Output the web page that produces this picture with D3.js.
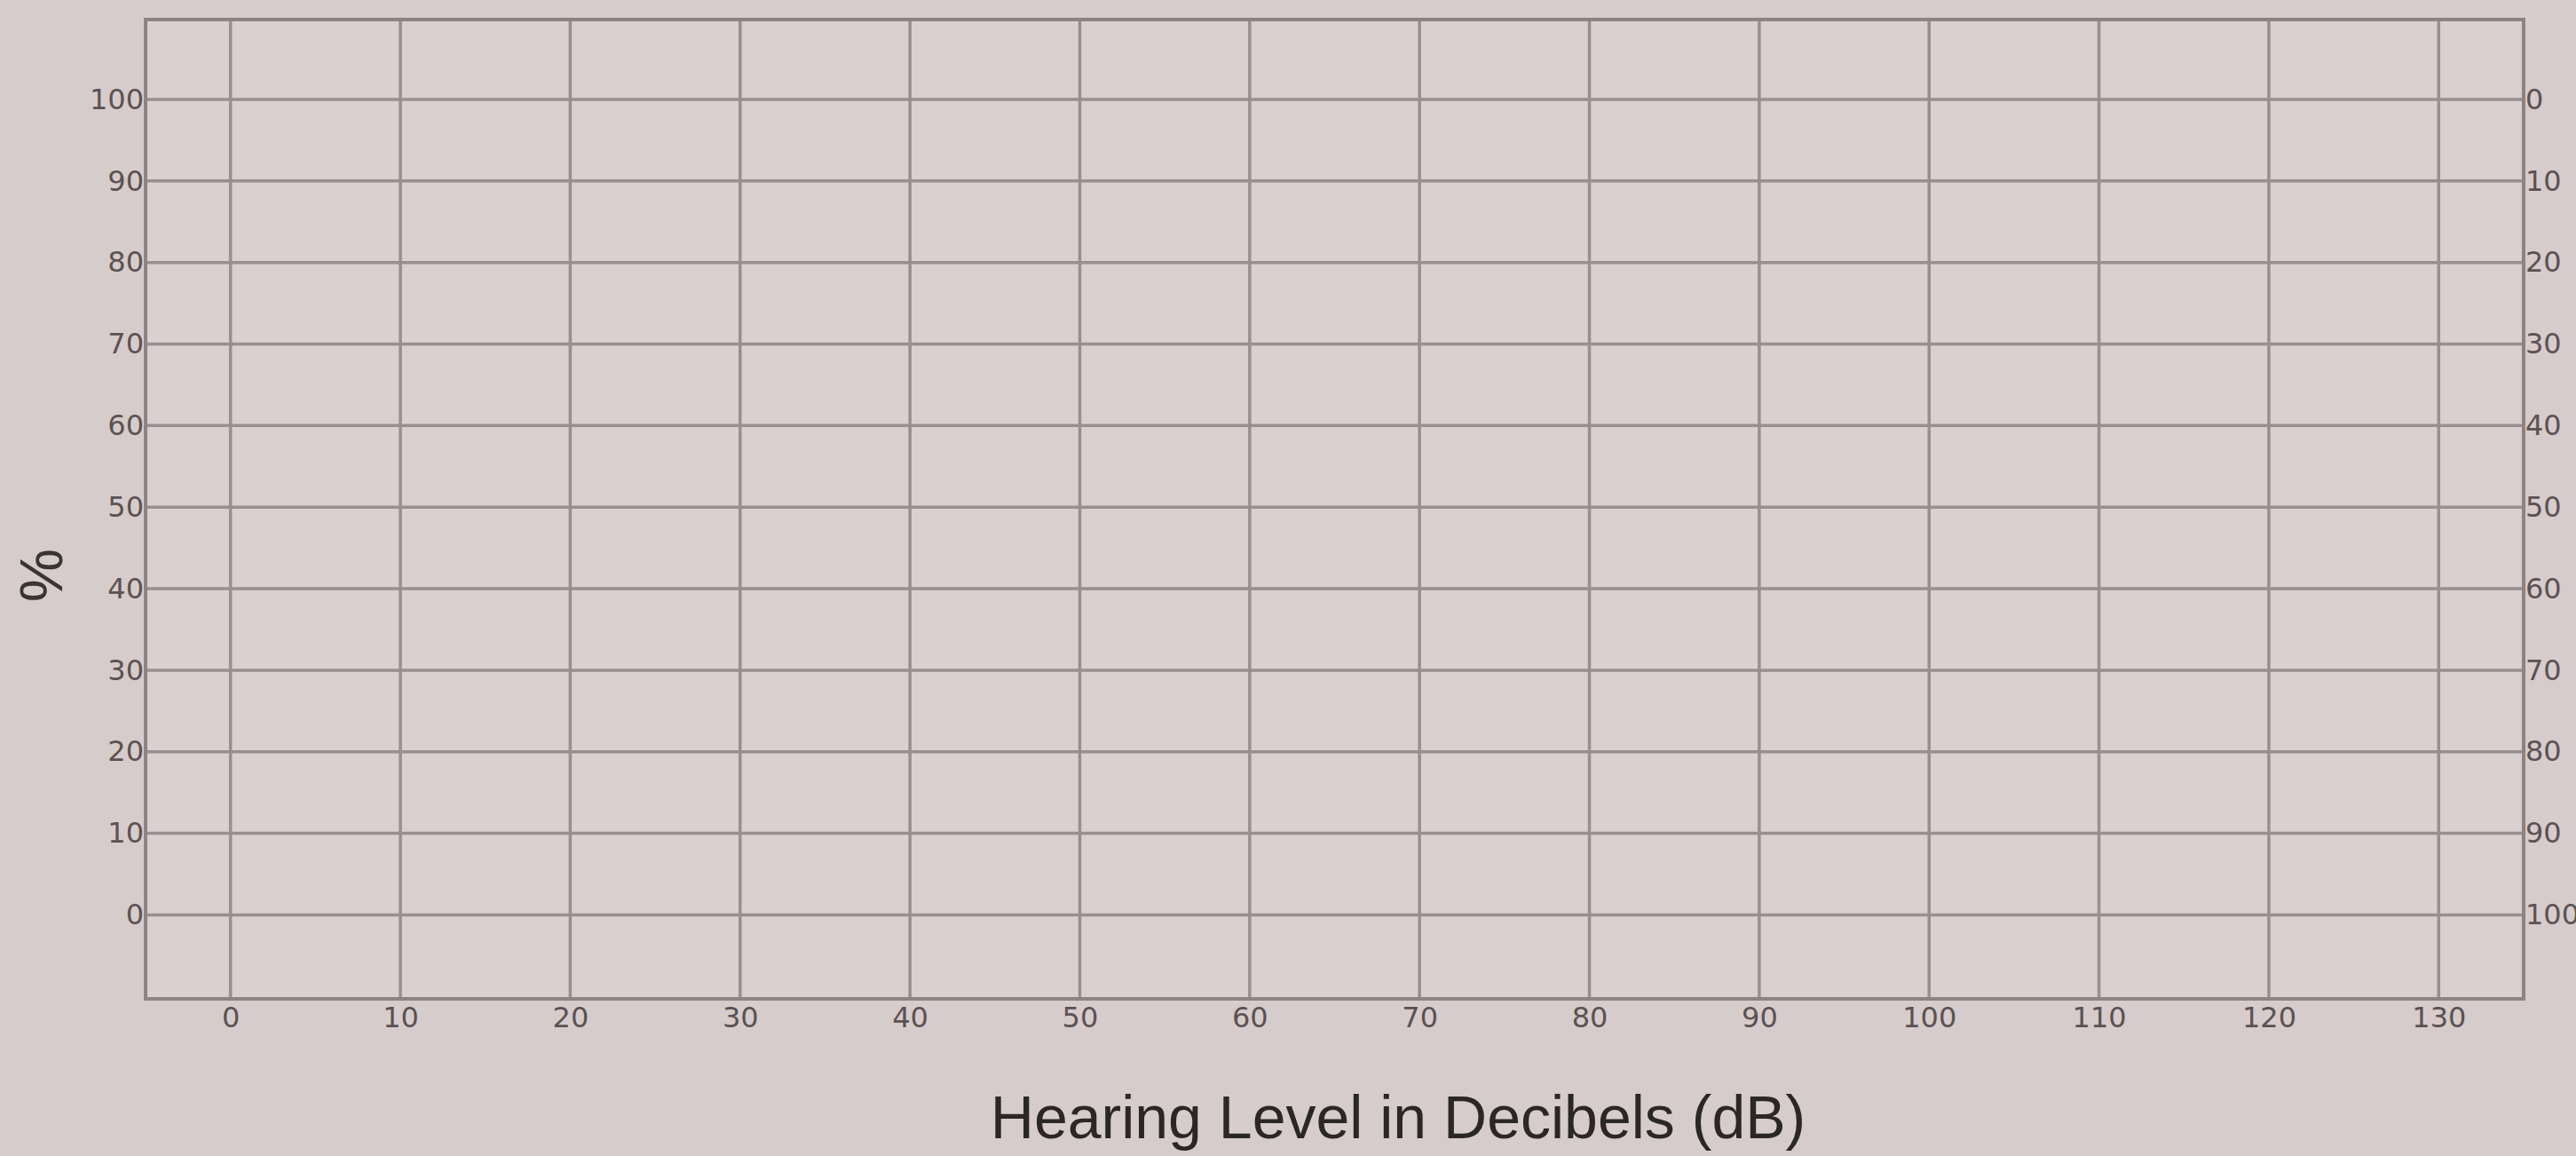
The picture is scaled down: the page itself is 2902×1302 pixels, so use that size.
<!DOCTYPE html>
<html>
<head>
<meta charset="utf-8">
<script src="https://cdn.jsdelivr.net/npm/d3@7"></script>
<style>
  html, body { margin: 0; padding: 0; background: #d6cccb; }
  svg { display: block; }
  .tick text { font-family: "DejaVu Sans", sans-serif; fill: #5b5252; }
  .domain { display: none; }
</style>
</head>
<body>
<script>
// tick values (blank audiogram grid)
var dbTicks = [0, 10, 20, 30, 40, 50, 60, 70, 80, 90, 100, 110, 120, 130];
var pctTicks = [0, 10, 20, 30, 40, 50, 60, 70, 80, 90, 100];
var lossTicks = [0, 10, 20, 30, 40, 50, 60, 70, 80, 90, 100];
var xTitle = "Hearing Level in Decibels (dB)";
var yTitle = "%";

(function() {

var width = 2902, height = 1302;
var x0 = 164, x1 = 2843, y0 = 22, y1 = 1125;

var svg = d3.select("body").append("svg")
  .attr("width", width)
  .attr("height", height);

var x = d3.scaleLinear().domain([-5, 135]).range([x0, x1]);
var y = d3.scaleLinear().domain([-10.3, 109.8]).range([y1, y0]);
// right side reads the other way round
var yR = d3.scaleLinear().domain([110.3, -9.8]).range([y1, y0]);

svg.append("rect")
  .attr("x", x0).attr("y", y0)
  .attr("width", x1 - x0).attr("height", y1 - y0)
  .attr("fill", "#d9d0cf");

var grid = svg.append("g").attr("stroke", "#9a8e8e").attr("stroke-width", 3.5);

grid.selectAll(".h")
  .data(pctTicks)
  .enter().append("line")
  .attr("x1", x0).attr("x2", x1)
  .attr("y1", d => y(d)).attr("y2", d => y(d));

grid.selectAll(".v")
  .data(dbTicks)
  .enter().append("line")
  .attr("y1", y0).attr("y2", y1)
  .attr("x1", d => x(d)).attr("x2", d => x(d));

svg.append("rect")
  .attr("x", x0).attr("y", y0)
  .attr("width", x1 - x0).attr("height", y1 - y0)
  .attr("fill", "none")
  .attr("stroke", "#8e8282")
  .attr("stroke-width", 4);

svg.append("g")
  .attr("transform", `translate(0,${y1})`)
  .call(d3.axisBottom(x).tickValues(dbTicks).tickSize(0).tickPadding(9))
  .selectAll("text").style("font-size", "32px");

svg.append("g")
  .attr("transform", `translate(${x0},0)`)
  .call(d3.axisLeft(y).tickValues(pctTicks).tickSize(0).tickPadding(2))
  .selectAll("text").style("font-size", "32px");

svg.append("g")
  .attr("transform", `translate(${x1},0)`)
  .call(d3.axisRight(yR).tickValues(lossTicks).tickSize(0).tickPadding(2))
  .selectAll("text").style("font-size", "32px");

svg.append("text")
  .attr("x", 1575)
  .attr("y", 1282)
  .attr("text-anchor", "middle")
  .attr("font-family", "Liberation Sans, Arial, sans-serif")
  .attr("font-size", 68)
  .attr("fill", "#2b2727")
  .text(xTitle);

svg.append("text")
  .attr("transform", "translate(70,648) rotate(-90)")
  .attr("text-anchor", "middle")
  .attr("font-family", "Liberation Sans, Arial, sans-serif")
  .attr("font-size", 68)
  .attr("fill", "#3a3434")
  .text(yTitle);

})();
</script>
</body>
</html>
